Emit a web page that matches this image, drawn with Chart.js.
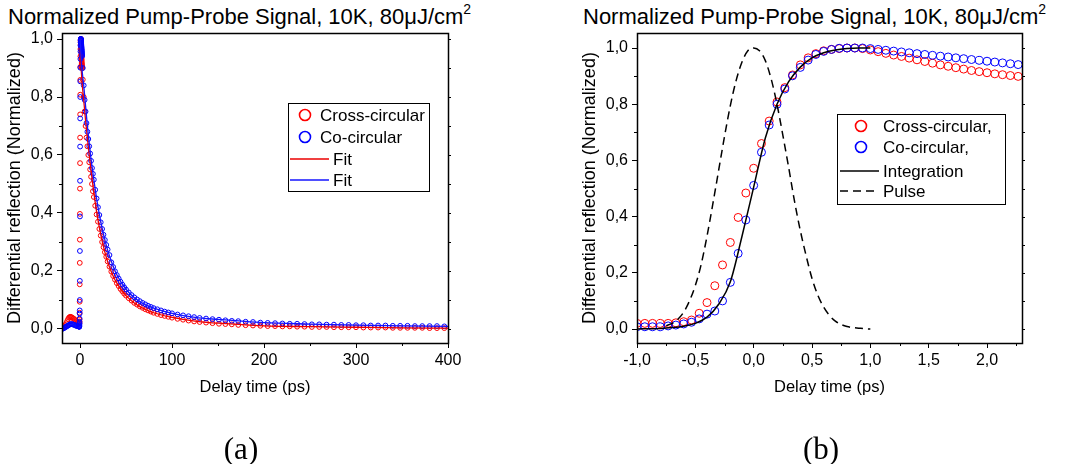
<!DOCTYPE html>
<html>
<head>
<meta charset="utf-8">
<script src="https://cdn.jsdelivr.net/npm/chart.js@4"></script>
<style>
  body { margin: 0; background: #fff; width: 1069px; height: 464px; overflow: hidden; position: relative;
         font-family: "Liberation Sans", Arial, sans-serif; color: #000; }
  canvas { position: absolute; top: 0; }
  #chartA { left: 0; }
  #chartB { left: 534px; }
  .ttl { position: absolute; top: 4px; font-size: 22px; line-height: 26px; white-space: nowrap; }
  .ttl sup { font-size: 14px; vertical-align: baseline; position: relative; top: -10px; }
  .cap { position: absolute; top: 432px; width: 80px; text-align: center; line-height: 34px;
         font-family: "Liberation Serif", "DejaVu Serif", serif; font-size: 31px; }
</style>
</head>
<body>
<div class="ttl" style="left:8px">Normalized Pump-Probe Signal, 10K, 80μJ/cm<sup>2</sup></div>
<div class="ttl" style="left:583px">Normalized Pump-Probe Signal, 10K, 80μJ/cm<sup>2</sup></div>
<canvas id="chartA" width="534" height="464"></canvas>
<canvas id="chartB" width="535" height="464"></canvas>
<div class="cap" style="left:201px">(a)</div>
<div class="cap" style="left:781px">(b)</div>
<script>
// fine scan around zero delay (ps), used in both panels
const fineX = [-1.0, -0.933, -0.867, -0.8, -0.733, -0.667, -0.6, -0.533, -0.467, -0.4,
  -0.333, -0.267, -0.2, -0.133, -0.067, 0, 0.067, 0.133, 0.2, 0.267,
  0.333, 0.4, 0.467, 0.533, 0.6, 0.667, 0.733, 0.8, 0.867, 0.933,
  1.0, 1.067, 1.133, 1.2, 1.267, 1.333, 1.4, 1.467, 1.533, 1.6,
  1.667, 1.733, 1.8, 1.867, 1.933, 2.0, 2.067, 2.133, 2.2, 2.267];
const fineCross = [0.02, 0.02, 0.02, 0.02, 0.02, 0.022, 0.026, 0.032, 0.056, 0.094,
  0.154, 0.228, 0.308, 0.397, 0.484, 0.572, 0.66, 0.74, 0.808, 0.859,
  0.904, 0.94, 0.965, 0.98, 0.99, 0.995, 0.998, 1.0, 1.0, 0.998,
  0.993, 0.987, 0.981, 0.975, 0.97, 0.964, 0.958, 0.952, 0.946, 0.94,
  0.935, 0.93, 0.925, 0.92, 0.916, 0.912, 0.908, 0.905, 0.902, 0.899];
const fineCo = [0.008, 0.008, 0.008, 0.008, 0.011, 0.014, 0.018, 0.024, 0.036, 0.053,
  0.064, 0.1, 0.166, 0.269, 0.388, 0.511, 0.629, 0.726, 0.8, 0.854,
  0.901, 0.931, 0.957, 0.977, 0.988, 0.995, 0.999, 1.0, 1.0, 1.0,
  0.998, 0.995, 0.992, 0.989, 0.986, 0.983, 0.98, 0.977, 0.974, 0.971,
  0.968, 0.965, 0.962, 0.959, 0.956, 0.953, 0.95, 0.947, 0.944, 0.941];

// before the fine scan
const preX = [-20, -19, -18, -17, -16, -15, -14, -13, -12, -11, -10, -9, -8, -7, -6, -5, -4, -3, -2];
const preCross = [0.005, 0.006, 0.008, 0.01, 0.014, 0.02, 0.027, 0.034, 0.039, 0.042,
  0.042, 0.04, 0.038, 0.036, 0.033, 0.03, 0.027, 0.024, 0.022];
const preCo = [0.0, 0.001, 0.002, 0.004, 0.006, 0.008, 0.01, 0.012, 0.014, 0.016,
  0.017, 0.017, 0.016, 0.015, 0.014, 0.012, 0.011, 0.01, 0.009];

// long decay
const decayX = [3, 4, 5, 6, 7, 8, 9, 10, 11, 12, 13, 14, 15, 16.5, 18, 19.5, 21, 22.5, 24, 25.5,
  27, 28.5, 30, 32, 34, 36, 38, 40, 42, 44, 46, 48, 50, 53, 56, 59, 62, 65, 68, 71,
  74, 77, 80, 84, 88, 92, 96, 100, 106, 112, 118, 124, 130, 137, 144, 151, 158, 165, 172, 180,
  188, 196, 204, 212, 220, 228, 236, 244, 252, 260, 268, 276, 284, 292, 300, 308, 316, 324, 332, 340,
  348, 356, 364, 372, 380, 388, 396];
const decayCross = [0.86, 0.8, 0.75, 0.7, 0.66, 0.63, 0.6, 0.575, 0.55, 0.525, 0.5, 0.475, 0.455, 0.425, 0.395, 0.37, 0.345, 0.322, 0.3, 0.282,
  0.265, 0.249, 0.233, 0.215, 0.198, 0.183, 0.17, 0.158, 0.148, 0.138, 0.13, 0.122, 0.115, 0.106, 0.098, 0.09, 0.084, 0.078, 0.073, 0.068,
  0.064, 0.06, 0.056, 0.052, 0.048, 0.045, 0.042, 0.039, 0.035, 0.032, 0.029, 0.026, 0.024, 0.022, 0.02, 0.018, 0.017, 0.016, 0.014, 0.013,
  0.012, 0.011, 0.01, 0.01, 0.009, 0.009, 0.008, 0.008, 0.007, 0.007, 0.007, 0.006, 0.006, 0.006, 0.006, 0.005, 0.005, 0.005, 0.005, 0.004,
  0.004, 0.004, 0.004, 0.004, 0.003, 0.003, 0.003];
const decayCo = [0.9, 0.84, 0.79, 0.75, 0.71, 0.68, 0.655, 0.63, 0.605, 0.58, 0.555, 0.535, 0.515, 0.48, 0.45, 0.42, 0.393, 0.368, 0.345, 0.325,
  0.307, 0.29, 0.274, 0.255, 0.23, 0.214, 0.199, 0.186, 0.174, 0.163, 0.153, 0.144, 0.136, 0.126, 0.117, 0.109, 0.102, 0.096, 0.09, 0.085,
  0.08, 0.076, 0.072, 0.068, 0.064, 0.06, 0.057, 0.054, 0.05, 0.047, 0.044, 0.041, 0.038, 0.036, 0.034, 0.032, 0.03, 0.028, 0.027, 0.025,
  0.024, 0.022, 0.021, 0.02, 0.019, 0.018, 0.018, 0.017, 0.016, 0.016, 0.015, 0.015, 0.014, 0.014, 0.013, 0.013, 0.012, 0.012, 0.012, 0.011,
  0.011, 0.011, 0.01, 0.01, 0.01, 0.01, 0.009];

// fits (panel a)
const fitX = [0, 2, 4, 6, 8, 10, 12, 15, 18, 21, 25, 30, 35, 40, 50, 60, 70, 80, 100, 125, 150, 200, 250, 300, 350, 400];
const fitCross = [0.97, 0.86, 0.79, 0.72, 0.66, 0.6, 0.545, 0.47, 0.405, 0.35, 0.29, 0.232, 0.19, 0.158, 0.115, 0.087, 0.069, 0.056, 0.04, 0.027, 0.02, 0.011, 0.008, 0.006, 0.004, 0.003];
const fitCo = [1.0, 0.9, 0.84, 0.77, 0.7, 0.64, 0.585, 0.515, 0.45, 0.395, 0.333, 0.272, 0.225, 0.187, 0.137, 0.105, 0.085, 0.072, 0.054, 0.04, 0.033, 0.022, 0.017, 0.013, 0.011, 0.009];

// integration and pulse (panel b)
const intX = [-1.0, -0.9, -0.8, -0.7, -0.6, -0.5, -0.4, -0.3, -0.2, -0.1, 0, 0.1, 0.2, 0.3, 0.4, 0.5, 0.6, 0.7, 0.8, 0.9, 1.0];
const intY = [0.0, 0.001, 0.002, 0.005, 0.01, 0.02, 0.042, 0.088, 0.168, 0.33, 0.505, 0.68, 0.8, 0.88, 0.932, 0.965, 0.983, 0.993, 0.998, 1.0, 1.0];
const pulseX = [-0.75, -0.7, -0.65, -0.6, -0.55, -0.5, -0.45, -0.4, -0.35, -0.3, -0.25, -0.2, -0.15, -0.1, -0.05, 0,
  0.05, 0.1, 0.15, 0.2, 0.25, 0.3, 0.35, 0.4, 0.45, 0.5, 0.55, 0.6, 0.65, 0.7, 0.75, 0.8, 0.85, 0.9, 0.95, 1.0];
const pulseY = [0.012, 0.02, 0.035, 0.06, 0.1, 0.155, 0.23, 0.33, 0.445, 0.565, 0.685, 0.795, 0.885, 0.95, 0.99, 1.0,
  0.99, 0.955, 0.89, 0.8, 0.69, 0.575, 0.455, 0.35, 0.26, 0.18, 0.12, 0.078, 0.048, 0.028, 0.016, 0.009, 0.005, 0.003, 0.001, 0.0];

// ticks
const yMajor = [0, 0.2, 0.4, 0.6, 0.8, 1.0];
const yMinor = [0.1, 0.3, 0.5, 0.7, 0.9];
const yLabels = ['0,0', '0,2', '0,4', '0,6', '0,8', '1,0'];
const axMajor = [0, 100, 200, 300, 400];
const axMinor = [50, 150, 250, 350];
const axLabels = ['0', '100', '200', '300', '400'];
const bxMajor = [-1.0, -0.5, 0, 0.5, 1.0, 1.5, 2.0];
const bxMinor = [-0.75, -0.25, 0.25, 0.75, 1.25, 1.75, 2.25];
const bxLabels = ['-1,0', '-0,5', '0,0', '0,5', '1,0', '1,5', '2,0'];

const RED = 'rgb(255,0,0)';
const BLUE = 'rgb(0,0,255)';

function pts(xs, ys) {
  return xs.map((x, i) => ({ x: x, y: ys[i] }));
}

Chart.defaults.font.family = '"Liberation Sans", Arial, sans-serif';
Chart.defaults.font.size = 16;
Chart.defaults.color = '#000';

// frame, minor ticks and right-side ticks
const framePlugin = {
  id: 'frame',
  afterDraw(chart, args, o) {
    const { ctx, chartArea: a } = chart;
    const xs = chart.scales.x;
    const ys = chart.scales.y;
    ctx.save();
    ctx.strokeStyle = '#000';
    ctx.lineWidth = 1;
    ctx.beginPath();
    o.minorX.forEach((v) => {
      const px = Math.round(xs.getPixelForValue(v)) + 0.5;
      ctx.moveTo(px, a.bottom); ctx.lineTo(px, a.bottom + 3);
    });
    o.minorY.forEach((v) => {
      const py = Math.round(ys.getPixelForValue(v)) + 0.5;
      ctx.moveTo(a.left, py); ctx.lineTo(a.left - 3, py);
    });
    o.minorY.concat(o.majorY).forEach((v) => {
      const py = Math.round(ys.getPixelForValue(v)) + 0.5;
      ctx.moveTo(a.right, py); ctx.lineTo(a.right + 3, py);
    });
    ctx.stroke();
    ctx.lineWidth = 1.5;
    ctx.strokeRect(Math.round(a.left) + 0.5, Math.round(a.top) + 0.5, Math.round(a.right - a.left), Math.round(a.bottom - a.top));
    ctx.restore();
  }
};

// boxed legend inside the plot
const legendPlugin = {
  id: 'boxLegend',
  afterDraw(chart, args, o) {
    const ctx = chart.ctx;
    ctx.save();
    ctx.fillStyle = '#fff';
    ctx.fillRect(o.x, o.y, o.w, o.h);
    ctx.strokeStyle = '#000';
    ctx.lineWidth = 1;
    ctx.strokeRect(o.x + 0.5, o.y + 0.5, o.w, o.h);
    ctx.font = o.font;
    ctx.textBaseline = 'middle';
    o.items.forEach((it, i) => {
      const ds = chart.data.datasets[it.ds];
      const cy = o.y + o.rows[i];
      ctx.strokeStyle = ds.borderColor;
      if (it.kind === 'circle') {
        ctx.lineWidth = 1.6;
        ctx.beginPath();
        ctx.arc(o.x + o.markX, cy, 5.5, 0, Math.PI * 2);
        ctx.stroke();
      } else {
        ctx.lineWidth = ds.borderWidth;
        ctx.setLineDash(ds.borderDash || []);
        ctx.beginPath();
        ctx.moveTo(o.x + o.line0, cy);
        ctx.lineTo(o.x + o.line1, cy);
        ctx.stroke();
        ctx.setLineDash([]);
      }
      ctx.fillStyle = '#000';
      ctx.fillText(ds.label, o.x + it.tx, cy + 1);
    });
    ctx.restore();
  }
};

function makeScales(c) {
  return {
    x: {
      type: 'linear', min: c.xMin, max: c.xMax,
      afterBuildTicks: (s) => { s.ticks = c.xMajor.map((v) => ({ value: v })); },
      afterFit: (s) => { s.height = 60; },
      ticks: { autoSkip: false, maxRotation: 0, padding: 3, callback: (v) => c.xLabels[c.xMajor.indexOf(v)] },
      grid: { drawOnChartArea: false, tickLength: 5, color: '#000', lineWidth: 1 },
      border: { display: false },
      title: { display: true, text: 'Delay time (ps)', font: { size: 16.5 }, padding: { top: 0, bottom: 6 } }
    },
    y: {
      type: 'linear', min: c.yMin, max: c.yMax,
      afterBuildTicks: (s) => { s.ticks = yMajor.map((v) => ({ value: v })); },
      afterFit: (s) => { s.width = c.yWidth; },
      ticks: { autoSkip: false, padding: 4, callback: (v) => yLabels[yMajor.indexOf(v)] },
      grid: { drawOnChartArea: false, tickLength: 5, color: '#000', lineWidth: 1 },
      border: { display: false },
      title: { display: true, text: 'Differential reflection (Normalized)', font: { size: 18 }, padding: { top: c.yTitlePad, bottom: 0 } }
    }
  };
}

const chartA = new Chart(document.getElementById('chartA'), {
  type: 'scatter',
  data: {
    datasets: [
      { label: 'Cross-circular', data: pts(preX.concat(fineX, decayX), preCross.concat(fineCross, decayCross)),
        borderColor: RED, backgroundColor: 'rgba(0,0,0,0)', pointRadius: 2.4, borderWidth: 1, order: 4 },
      { label: 'Co-circular', data: pts(preX.concat(fineX, decayX), preCo.concat(fineCo, decayCo)),
        borderColor: BLUE, backgroundColor: 'rgba(0,0,0,0)', pointRadius: 2.4, borderWidth: 1, order: 3 },
      { label: 'Fit', data: pts(fitX, fitCross), showLine: true, pointRadius: 0, borderColor: 'rgb(235,0,0)',
        borderWidth: 1.3, cubicInterpolationMode: 'monotone', order: 2 },
      { label: 'Fit', data: pts(fitX, fitCo), showLine: true, pointRadius: 0, borderColor: 'rgb(20,20,255)',
        borderWidth: 1.3, cubicInterpolationMode: 'monotone', order: 1 }
    ]
  },
  options: {
    responsive: false, animation: false, events: [],
    layout: { padding: { left: 0, right: 86, top: 33, bottom: 61 } },
    scales: makeScales({ xMin: -19.6, xMax: 400, yMin: -0.0483, yMax: 1.0207, xMajor: axMajor, xLabels: axLabels, yWidth: 62, yTitlePad: 4 }),
    plugins: {
      legend: { display: false }, tooltip: { enabled: false },
      frame: { minorX: axMinor, minorY: yMinor, majorY: yMajor },
      boxLegend: {
        x: 288, y: 103, w: 141, h: 88, font: '17px "Liberation Sans", Arial, sans-serif',
        rows: [12, 34, 56, 77], markX: 17, line0: 2, line1: 41,
        items: [{ ds: 0, kind: 'circle', tx: 32 }, { ds: 1, kind: 'circle', tx: 32 },
                { ds: 2, kind: 'line', tx: 45 }, { ds: 3, kind: 'line', tx: 45 }]
      }
    }
  },
  plugins: [framePlugin, legendPlugin]
});

const chartB = new Chart(document.getElementById('chartB'), {
  type: 'scatter',
  data: {
    datasets: [
      { label: 'Cross-circular,', data: pts(fineX, fineCross), borderColor: RED, backgroundColor: 'rgba(0,0,0,0)',
        pointRadius: 4, borderWidth: 1, order: 4 },
      { label: 'Co-circular,', data: pts(fineX, fineCo), borderColor: BLUE, backgroundColor: 'rgba(0,0,0,0)',
        pointRadius: 4, borderWidth: 1, order: 3 },
      { label: 'Integration', data: pts(intX, intY), showLine: true, pointRadius: 0, borderColor: '#000',
        borderWidth: 1.5, cubicInterpolationMode: 'monotone', order: 2 },
      { label: 'Pulse', data: pts(pulseX, pulseY), showLine: true, pointRadius: 0, borderColor: '#000',
        borderWidth: 1.5, borderDash: [8, 5], cubicInterpolationMode: 'monotone', order: 1 }
    ]
  },
  options: {
    responsive: false, animation: false, events: [],
    layout: { padding: { left: 40, right: 47, top: 33, bottom: 61 } },
    scales: makeScales({ xMin: -1.0, xMax: 2.3, yMin: -0.0498, yMax: 1.0534, xMajor: bxMajor, xLabels: bxLabels, yWidth: 63, yTitlePad: 5 }),
    plugins: {
      legend: { display: false }, tooltip: { enabled: false },
      frame: { minorX: bxMinor, minorY: yMinor, majorY: yMajor },
      boxLegend: {
        x: 303, y: 114, w: 168, h: 90, font: '17px "Liberation Sans", Arial, sans-serif',
        rows: [12, 33, 57, 77], markX: 24, line0: 3, line1: 42,
        items: [{ ds: 0, kind: 'circle', tx: 46 }, { ds: 1, kind: 'circle', tx: 46 },
                { ds: 2, kind: 'line', tx: 46 }, { ds: 3, kind: 'line', tx: 46 }]
      }
    }
  },
  plugins: [framePlugin, legendPlugin]
});
</script>
</body>
</html>
